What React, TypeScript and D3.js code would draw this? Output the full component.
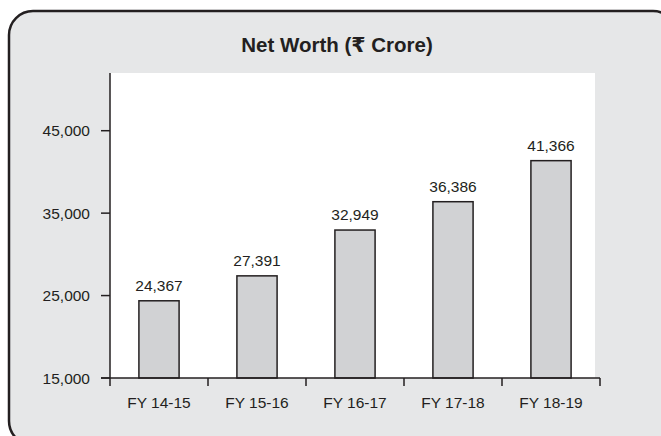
import React from 'react';
import * as d3 from 'd3';

const years = ['FY 14-15', 'FY 15-16', 'FY 16-17', 'FY 17-18', 'FY 18-19'];
const netWorth = [24367, 27391, 32949, 36386, 41366];
const yTicks = [15000, 25000, 35000, 45000];

const width = 661;
const height = 436;
const margin = { top: 73, left: 110, right: 62, bottom: 58 };
const font = '"Liberation Sans", Arial, "DejaVu Sans", sans-serif';
const ink = '#231f20';

const App = () => {
    const plotRight = width - margin.right;
    const plotBottom = height - margin.bottom;

    const x = d3.scaleBand<string>()
        .domain(years)
        .range([margin.left, plotRight + 1])
        .paddingInner(0.59)
        .paddingOuter(0.295);
    const y = d3.scaleLinear()
        .domain([15000, 52000])
        .range([plotBottom, margin.top]);
    const fmt = d3.format(',');

    // tick marks sit between the bars
    const bandEdges = years.map(d => (x(d) as number) - (x.step() - x.bandwidth()) / 2);
    bandEdges.push(plotRight + 1);

    return (
        <svg width={width} height={height} style={{ position: 'absolute', left: 0, top: 0 }}>
            <rect x={9} y={11} width={668} height={434} rx={24} ry={24}
                fill="#e6e7e8" stroke={ink} strokeWidth={2.5} />
            <text x={337} y={52} textAnchor="middle" fontFamily={font} fontWeight="bold"
                fontSize={20.5} fill={ink}>Net Worth (₹ Crore)</text>
            <rect x={margin.left} y={margin.top} width={595 - margin.left} height={plotBottom - margin.top} fill="#ffffff" />

            {years.map((d, i) => (
                <g key={d}>
                    <rect x={x(d)} y={y(netWorth[i])} width={x.bandwidth()}
                        height={plotBottom - y(netWorth[i])}
                        fill="#d1d2d4" stroke={ink} strokeWidth={1.5} />
                    <text x={(x(d) as number) + x.bandwidth() / 2} y={y(netWorth[i]) - 10}
                        textAnchor="middle" fontFamily={font} fontSize={15.5} fill={ink}>
                        {fmt(netWorth[i])}
                    </text>
                    <text x={(x(d) as number) + x.bandwidth() / 2} y={408}
                        textAnchor="middle" fontFamily={font} fontSize={15.5} fill={ink}>
                        {d}
                    </text>
                </g>
            ))}

            {/* y axis */}
            <line x1={margin.left} x2={margin.left} y1={margin.top} y2={plotBottom} stroke={ink} strokeWidth={1.5} />
            {yTicks.map(t => (
                <g key={t}>
                    <line x1={margin.left - 9} x2={margin.left} y1={y(t)} y2={y(t)} stroke={ink} strokeWidth={1.5} />
                    <text x={90} y={y(t) + 5.5} textAnchor="end" fontFamily={font} fontSize={15.5} fill={ink}>
                        {fmt(t)}
                    </text>
                </g>
            ))}

            {/* x axis */}
            <line x1={margin.left - 9} x2={plotRight + 1} y1={plotBottom} y2={plotBottom} stroke={ink} strokeWidth={1.5} />
            {bandEdges.map((e, i) => (
                <line key={i} x1={e} x2={e} y1={plotBottom} y2={plotBottom + 8} stroke={ink} strokeWidth={1.5} />
            ))}
        </svg>
    );
};

export default App;
